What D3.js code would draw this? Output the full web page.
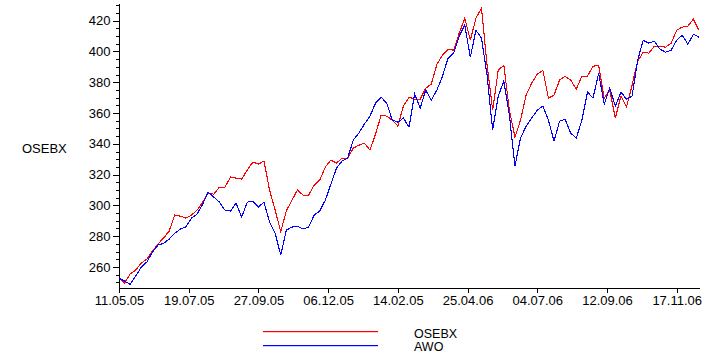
<!DOCTYPE html>
<html><head><meta charset="utf-8">
<script src="https://cdn.jsdelivr.net/npm/d3@7/dist/d3.min.js"></script>
<style>
body{margin:0;background:#fff}
svg{display:block}
text{font-family:"Liberation Sans",Arial,sans-serif;font-size:13px;fill:#000}
</style>
</head><body>
<svg id="c" width="721" height="359"></svg>
<script>
// x tick labels (every 50 observations)
const tickLabels = ["11.05.05","19.07.05","27.09.05","06.12.05","14.02.05","25.04.06","04.07.06","12.09.06","17.11.06"];
const tickIndex = [0,50,100,150,200,250,300,350,400];
const yTicks = [260,280,300,320,340,360,380,400,420];
const step = 4; // observations between stored values
const seriesNames = ["OSEBX","AWO"];
const seriesColors = ["#ff0000","#0000ff"];

const osebx = [252.6,249.5,255.4,258.0,262.5,265.1,270.3,274.9,278.8,283.3,
293.7,293.0,291.7,293.7,296.9,302.1,308.0,307.3,311.9,311.9,
318.4,317.7,317.1,322.9,328.1,326.8,328.8,309.9,296.9,283.0,
296.3,303.4,309.9,306.7,306.7,313.2,316.4,324.9,329.4,327.5,
330.7,330.7,337.2,339.1,340.4,335.9,346.3,358.6,358.0,355.4,
351.5,364.5,370.3,369.0,369.0,376.2,378.8,391.7,397.6,401.5,
400.8,411.9,421.6,407.3,421.6,428.1,391.1,361.9,387.8,391.1,
361.9,344.3,355.4,371.6,379.4,385.2,387.8,369.7,371.6,381.4,
383.9,381.4,375.5,383.9,383.9,390.4,391.1,369.7,374.9,356.7,
371.0,363.8,378.1,393.7,399.5,398.9,403.4,403.4,402.8,405.4,
413.8,415.8,416.4,421.0,413.8];

const awo = [252.6,250.8,248.7,254.1,259.9,263.2,269.7,274.2,275.3,278.1,
281.8,284.6,286.1,291.7,294.3,300.8,308.6,305.4,302.1,296.9,
296.3,301.5,292.4,302.1,302.8,298.9,302.1,289.1,282.0,267.7,
283.9,285.9,286.5,284.6,285.9,293.7,296.3,303.4,313.8,324.2,
328.8,330.7,342.4,346.9,352.8,358.0,366.4,370.3,366.4,355.4,
354.1,356.7,350.8,372.3,363.2,374.9,368.4,374.9,383.9,395.6,
398.9,409.9,417.1,396.3,413.8,408.6,384.6,348.9,371.0,380.7,
358.6,325.5,343.7,351.5,356.7,361.9,364.5,355.4,341.7,354.7,
356.0,346.9,343.7,355.4,373.6,369.7,385.9,365.8,376.2,364.5,
373.6,369.0,371.0,394.3,407.3,405.4,406.7,401.5,399.5,400.8,
407.3,410.6,404.7,411.2,409.3];

const svg = d3.select("#c");
const x = d3.scaleLinear().domain([0,416]).range([119,699]);
const y = d3.scaleLinear().domain([246.3,431.5]).range([288,3]);

// minor y ticks
const minor = d3.range(250,431,5);
svg.append("g").attr("transform","translate(118.5,0)")
  .attr("shape-rendering","crispEdges")
  .call(d3.axisLeft(y).tickValues(minor).tickSize(3).tickSizeOuter(0).tickFormat(""))
  .call(g=>g.selectAll("line,path").attr("stroke","#000"));

// major y ticks
svg.append("g").attr("transform","translate(118.5,0)")
  .attr("shape-rendering","crispEdges")
  .call(d3.axisLeft(y).tickValues(yTicks).tickSize(6).tickPadding(2).tickSizeOuter(0))
  .call(g=>g.selectAll("line,path").attr("stroke","#000"))
  .call(g=>g.selectAll("text").attr("font-size",13).attr("font-family","Liberation Sans, Arial, sans-serif"));

// x axis
svg.append("g").attr("transform","translate(0,287.5)")
  .attr("shape-rendering","crispEdges")
  .call(d3.axisBottom(x).tickValues(tickIndex).tickSize(5).tickPadding(3).tickSizeOuter(0)
        .tickFormat((d,i)=>tickLabels[i]))
  .call(g=>g.selectAll("line,path").attr("stroke","#000"))
  .call(g=>g.selectAll("text").attr("font-size",13).attr("font-family","Liberation Sans, Arial, sans-serif"));

// y title
svg.append("text").attr("x",22).attr("y",153).text("OSEBX");

// lines
const lineGen = d3.line().x((d,i)=>x(i*step)).y(d=>y(d));
[osebx, awo].forEach((s,j)=>{
  svg.append("path").datum(s)
    .attr("d",lineGen).attr("fill","none")
    .style("stroke",seriesColors[j]).attr("stroke-width",1.1)
    .attr("shape-rendering","crispEdges");
});

// legend
const leg = svg.append("g");
seriesNames.forEach((n,j)=>{
  leg.append("rect").attr("x",263).attr("y",331 + j*14).attr("width",115).attr("height",1.2)
    .style("fill",seriesColors[j]);
  leg.append("text").attr("x",414).attr("y",338 + j*13).style("font-size","12.5px").text(n);
});
</script>
</body></html>
